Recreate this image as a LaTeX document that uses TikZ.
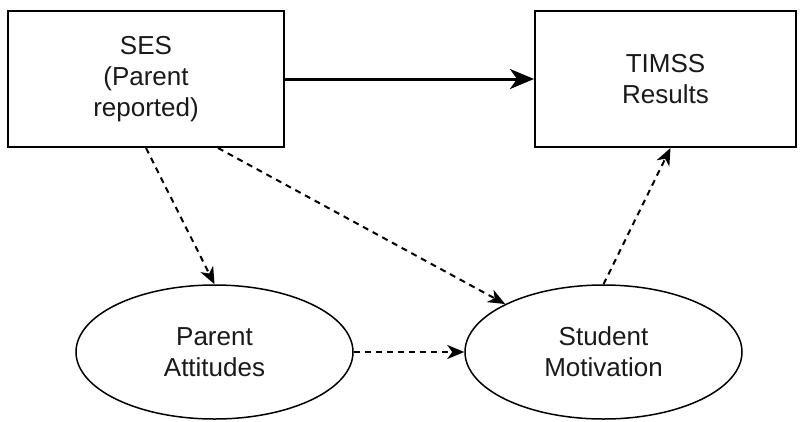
\documentclass[tikz,border=0pt]{standalone}
\usepackage{fontspec}
\setmainfont{Liberation Sans}
\usetikzlibrary{arrows.meta,calc,shapes.geometric}

\begin{document}
\begin{tikzpicture}[x=1pt,y=-1pt,
  txt/.style={font=\fontsize{26}{31}\selectfont, align=center, text=black!90},
  boxnode/.style={txt, draw=black, line width=2pt, rectangle, inner sep=0pt},
  ovalnode/.style={txt, draw=black, line width=1.5pt, ellipse, inner sep=0pt},
  mainlink/.style={line width=3pt, -{Stealth[length=24pt,width=20pt,inset=7pt]}},
  dashlink/.style={line width=2pt, dash pattern=on 6pt off 5pt,
                   -{Stealth[length=17pt,width=14pt,inset=5pt]}}
]
  \useasboundingbox (0,0) rectangle (801,421);

  % constructs
  \node[boxnode, minimum width=276pt, minimum height=136pt] (ses) at (146,79)
       {SES\\(Parent\\reported)};
  \node[boxnode, minimum width=261pt, minimum height=136pt] (timss) at (665.5,79)
       {TIMSS\\Results};
  \node[ovalnode, minimum width=277pt, minimum height=134pt] (pa) at (214.5,352)
       {Parent\\Attitudes};
  \node[ovalnode, minimum width=277pt, minimum height=134pt] (sm) at (603.5,352)
       {Student\\Motivation};

  % direct effect
  \draw[mainlink] (ses.east) -- (timss.west);

  % mediated paths
  \draw[dashlink] (ses.south) -- (pa.north);
  \draw[dashlink] ($(ses.south)+(72,0)$) -- (sm.154.5);
  \draw[dashlink] (pa.east) -- (sm.west);
  \draw[dashlink] (sm.north) -- ($(timss.south)+(5,0)$);
\end{tikzpicture}
\end{document}
